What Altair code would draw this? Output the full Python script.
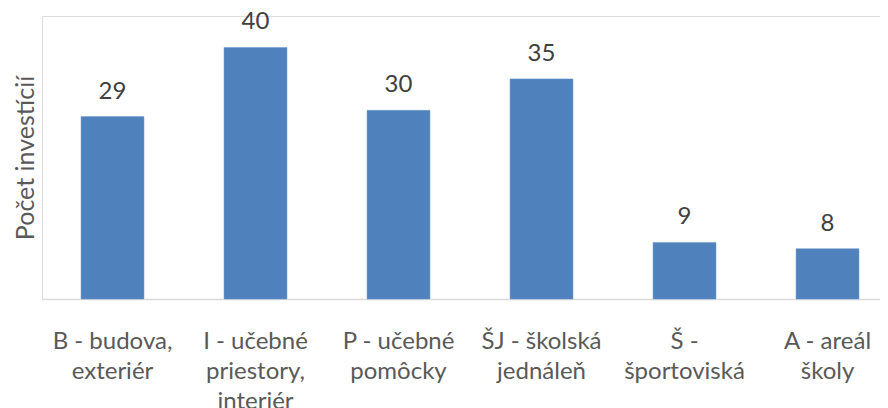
import altair as alt
import pandas as pd

categories = [
    "B - budova,|exteriér",
    "I - učebné|priestory,|interiér",
    "P - učebné|pomôcky",
    "ŠJ - školská|jednáleň",
    "Š -|športoviská",
    "A - areál|školy",
]
values = [29, 40, 30, 35, 9, 8]
y_title = "Počet investícií"

df = pd.DataFrame({"cat": categories, "val": values})

FONT = "Lato"

base = alt.Chart(df).encode(
    x=alt.X(
        "cat:N",
        sort=categories,
        title=None,
        scale=alt.Scale(paddingInner=0.56, paddingOuter=0.21, align=0.65),
        axis=alt.Axis(
            labelExpr="split(datum.label, '|')",
            labelAngle=0,
            labelFont=FONT,
            labelFontSize=24,
            labelColor="#595959",
            labelLineHeight=30,
            labelPadding=30,
            ticks=False,
            domainColor="#d9d9d9",
            domainWidth=1.5,
            grid=False,
        ),
    ),
    y=alt.Y(
        "val:Q",
        scale=alt.Scale(domain=[0, 45], nice=False),
        title=y_title,
        axis=alt.Axis(
            labels=False,
            ticks=False,
            domain=False,
            grid=False,
            titleFont=FONT,
            titleFontSize=25,
            titleFontWeight="normal",
            titleColor="#595959",
            titlePadding=4,
        ),
    ),
)

bars = base.mark_bar(color="#4f81bd", stroke="#6b96cc", strokeWidth=0.5)
text = base.mark_text(
    baseline="bottom", dy=-13, font=FONT, fontSize=24, color="#404040"
).encode(text="val:Q")

chart = (
    (bars + text)
    .properties(
        width=838,
        height=283,
        autosize=alt.AutoSizeParams(type="none"),
        padding={"left": 34, "top": 8, "right": 0, "bottom": 110},
    )
    .configure_view(stroke=None)
    .configure(background="white")
)

chart.save("out.html", embed_options={"renderer": "svg", "actions": False})
